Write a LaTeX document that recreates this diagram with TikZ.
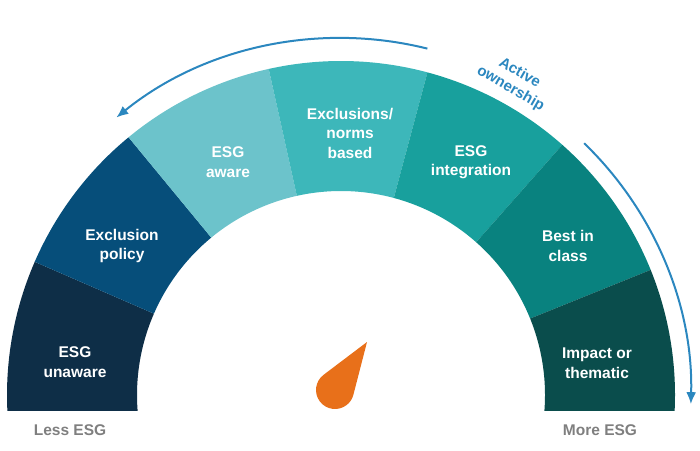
\documentclass[tikz,border=0pt]{standalone}
\usepackage{fontspec}
\setmainfont{Liberation Sans}
\usepackage{xcolor}
\usetikzlibrary{arrows.meta}

\definecolor{segA}{HTML}{0E2E47}
\definecolor{segB}{HTML}{064E7A}
\definecolor{segC}{HTML}{6CC3CB}
\definecolor{segD}{HTML}{3DB7BA}
\definecolor{segE}{HTML}{18A09D}
\definecolor{segF}{HTML}{09827F}
\definecolor{segG}{HTML}{0A4D4C}
\definecolor{flowblue}{HTML}{2B87BF}
\definecolor{textgray}{HTML}{7F7F7F}
\definecolor{needleorange}{HTML}{E8701A}

\begin{document}
\begin{tikzpicture}[x=1pt, y=1pt,
    seglabel/.style={text=white, align=center, font=\bfseries\fontsize{15.5}{19.5}\selectfont},
    endlabel/.style={text=textgray, font=\bfseries\fontsize{15.5}{19.5}\selectfont},
    flowlabel/.style={text=flowblue, align=center, font=\bfseries\fontsize{15}{18}\selectfont},
    arrow/.style={-{Latex[length=12pt, width=10pt]}, line width=2pt, draw=flowblue}
  ]
    \useasboundingbox (0,0) rectangle (700,450);
    \coordinate (cen) at (341,55);

    % Gauge segments
    \begin{scope}
      \clip (0,40) rectangle (700,450);
      \begin{scope}[shift={(cen)}]
        \fill[segA] (186:334) arc[start angle=186, end angle=156.5, radius=334] -- (156.5:204) arc[start angle=156.5, end angle=186, radius=204] -- cycle;
        \fill[segB] (156.5:334) arc[start angle=156.5, end angle=129.5, radius=334] -- (129.5:204) arc[start angle=129.5, end angle=156.5, radius=204] -- cycle;
        \fill[segC] (129.5:334) arc[start angle=129.5, end angle=102.5, radius=334] -- (102.5:204) arc[start angle=102.5, end angle=129.5, radius=204] -- cycle;
        \fill[segD] (102.5:334) arc[start angle=102.5, end angle=75, radius=334] -- (75:204) arc[start angle=75, end angle=102.5, radius=204] -- cycle;
        \fill[segE] (75:334) arc[start angle=75, end angle=48.5, radius=334] -- (48.5:204) arc[start angle=48.5, end angle=75, radius=204] -- cycle;
        \fill[segF] (48.5:334) arc[start angle=48.5, end angle=22, radius=334] -- (22:204) arc[start angle=22, end angle=48.5, radius=204] -- cycle;
        \fill[segG] (22:334) arc[start angle=22, end angle=-6, radius=334] -- (-6:204) arc[start angle=-6, end angle=22, radius=204] -- cycle;
      \end{scope}
    \end{scope}

    % Segment labels
    \node[seglabel] (unaware) at (75,88) {ESG\\unaware};
    \node[seglabel] (policy) at (122,204) {Exclusion\\policy};
    \node[seglabel] (aware) at (228,288) {ESG\\aware};
    \node[seglabel] (norms) at (350,317) {Exclusions/\\norms\\based};
    \node[seglabel] (integ) at (471,288) {ESG\\integration};
    \node[seglabel] (best) at (568,204) {Best in\\class};
    \node[seglabel] (impact) at (597,87) {Impact or\\thematic};

    % Scale ends
    \node[endlabel] (less) at (70,20) {Less ESG};
    \node[endlabel] (more) at (600,20) {More ESG};

    % Active ownership arrows
    \begin{scope}[shift={(cen)}]
      \coordinate (topstart) at (76:357);
      \coordinate (sidestart) at (46:350);
      \draw[arrow] (topstart) arc[start angle=76, end angle=129, radius=357];
      \draw[arrow] (sidestart) arc[start angle=46, end angle=-1.5, radius=350];
    \end{scope}
    \node[flowlabel, rotate=-30] (active) at (515,369) {Active\\ownership};

    % Needle
    \begin{scope}[shift={(335,60)}]
      \coordinate (hub) at (0,0);
      \fill[needleorange] (32,48) -- (127.1:19) arc[start angle=127.1, end angle=345.5, radius=19] -- cycle;
    \end{scope}
  \end{tikzpicture}
\end{document}
